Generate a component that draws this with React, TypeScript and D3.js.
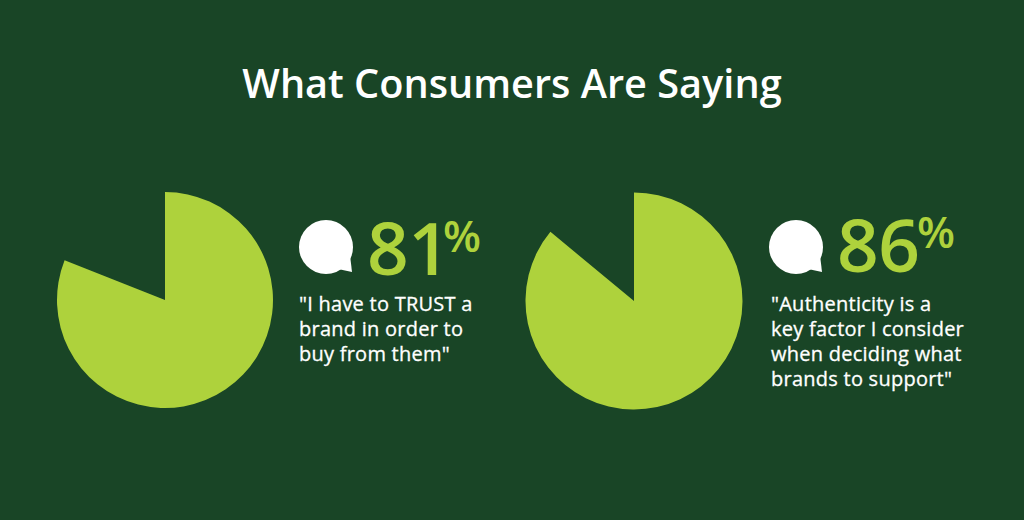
import { useRef, useEffect } from "react";
import * as d3 from "d3";

const title = "What Consumers Are Saying";
const percents = [81, 86];
const quotes = [
  ['"I have to TRUST a', "brand in order to", 'buy from them"'],
  ['"Authenticity is a', "key factor I consider", "when deciding what", 'brands to support"'],
];

const width = 1024;
const height = 520;
const font = "'Open Sans', sans-serif";
const green = "#aed23c";

// layout of the two panels
const panels = [
  { cx: 165, cy: 300, r: 108, bx: 326, by: 247, numX: 367, numY: 275, pctX: 443, pctY: 252, textX: 299, textY: 310.5 },
  { cx: 634, cy: 301, r: 108.5, bx: 796, by: 247, numX: 837, numY: 272, pctX: 917, pctY: 248, textX: 771, textY: 310.5 },
];

export default function App() {
  const svgRef = useRef<SVGSVGElement>(null);

  useEffect(() => {
    const svg = d3.select(svgRef.current);
    svg.selectAll("*").remove();

    svg.append("rect").attr("width", width).attr("height", height).attr("fill", "#194526");

    svg
      .append("text")
      .attr("x", 512)
      .attr("y", 98)
      .attr("text-anchor", "middle")
      .attr("font-family", font)
      .attr("font-size", 39.7)
      .attr("font-weight", 600)
      .attr("fill", "#ffffff")
      .text(title);

    const angle = d3.scaleLinear().domain([0, 100]).range([0, 2 * Math.PI]);

    percents.forEach((p, i) => {
      const g = panels[i];
      const arc = d3.arc();

      svg
        .append("path")
        .attr("transform", `translate(${g.cx},${g.cy})`)
        .attr("fill", green)
        .attr("d", arc({ innerRadius: 0, outerRadius: g.r, startAngle: 0, endAngle: angle(p) }));

      // speech bubble
      const bubble = svg.append("g").attr("transform", `translate(${g.bx},${g.by})`).attr("fill", "#ffffff");
      bubble.append("circle").attr("r", 27);
      bubble.append("path").attr("d", "M12,22 L26,25 L24,8 Z");

      svg
        .append("text")
        .attr("x", g.numX)
        .attr("y", g.numY)
        .attr("font-family", font)
        .attr("font-size", 73)
        .attr("font-weight", 600)
        .attr("letter-spacing", -0.5)
        .attr("fill", green)
        .text(p);

      svg
        .append("text")
        .attr("x", g.pctX)
        .attr("y", g.pctY)
        .attr("font-family", font)
        .attr("font-size", 44)
        .attr("font-weight", 600)
        .attr("fill", green)
        .text("%");

      svg
        .append("g")
        .selectAll("text")
        .data(quotes[i])
        .enter()
        .append("text")
        .attr("x", g.textX)
        .attr("y", (d, j) => g.textY + j * 25.2)
        .attr("font-family", font)
        .attr("font-size", 20)
        .attr("letter-spacing", 0.25)
        .attr("stroke", "#ffffff")
        .attr("stroke-width", 0.3)
        .attr("fill", "#ffffff")
        .text((d) => d);
    });
  }, []);

  return (
    <svg
      ref={svgRef}
      width={width}
      height={height}
      style={{ position: "absolute", top: 0, left: 0 }}
    />
  );
}
